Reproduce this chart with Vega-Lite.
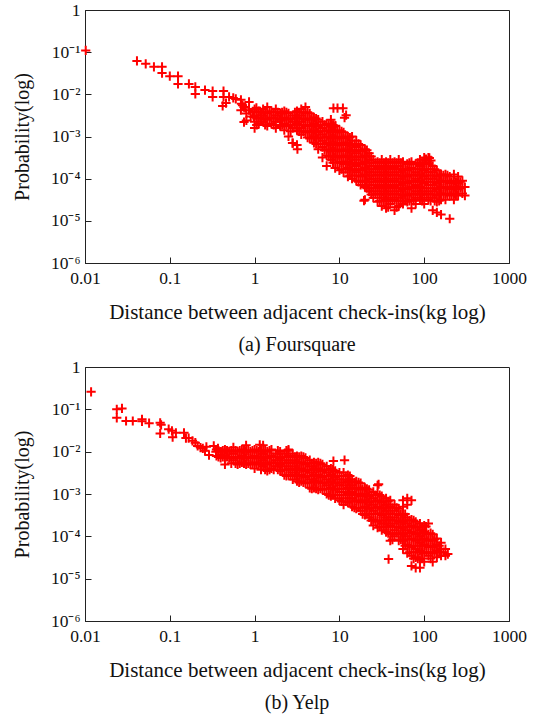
{
"$schema":"https://vega.github.io/schema/vega-lite/v6.json",
"background":"white",
"padding":{"left":11,"top":0,"right":5,"bottom":2},
"spacing":2,
"datasets":{
"fs":[
{"x":0.0102,"p":0.11},{"x":0.041,"p":0.062},{"x":0.052,"p":0.053},{"x":0.065,"p":0.045},{"x":0.081,"p":0.045},{"x":0.081,"p":0.032},{"x":0.10,"p":0.027},{"x":0.125,"p":0.027},{"x":0.125,"p":0.0176},{"x":0.168,"p":0.0176},{"x":0.20,"p":0.015},{"x":0.20,"p":0.0102},{"x":0.26,"p":0.0126},{"x":0.32,"p":0.012},{"x":0.32,"p":0.0087},{"x":0.43,"p":0.012},{"x":0.43,"p":0.0087},{"x":0.42,"p":0.0053},{"x":0.46,"p":0.0062},{"x":0.50,"p":0.0087},{"x":0.56,"p":0.0082},{"x":0.60,"p":0.0078},{"x":0.69,"p":0.0074},{"x":0.69,"p":0.0042},{"x":0.72,"p":0.0055},{"x":0.70,"p":0.006},{"x":0.75,"p":0.0022},{"x":0.75,"p":0.005},{"x":0.78,"p":0.0048},{"x":0.80,"p":0.0035},{"x":0.80,"p":0.0024},{"x":0.86,"p":0.0066},{"x":0.86,"p":0.0042},{"x":0.90,"p":0.003},{"x":0.95,"p":0.0038},{"x":0.98,"p":0.0029},{"x":1.05,"p":0.0048},
{"x":1,"p":4.47e-3},{"x":1,"p":3.16e-3},{"x":1,"p":2.24e-3},{"x":1,"p":1.58e-3},
{"x":1.12,"p":3.98e-3},{"x":1.12,"p":2.82e-3},{"x":1.12,"p":2.0e-3},
{"x":1.26,"p":4.47e-3},{"x":1.26,"p":3.16e-3},{"x":1.26,"p":2.24e-3},
{"x":1.41,"p":5.01e-3},{"x":1.41,"p":3.55e-3},{"x":1.41,"p":2.51e-3},{"x":1.41,"p":1.78e-3},
{"x":1.58,"p":3.98e-3},{"x":1.58,"p":2.82e-3},{"x":1.58,"p":2.0e-3},
{"x":1.78,"p":4.47e-3},{"x":1.78,"p":3.16e-3},{"x":1.78,"p":2.24e-3},{"x":1.78,"p":1.58e-3},
{"x":2.0,"p":3.55e-3},{"x":2.0,"p":2.51e-3},{"x":2.0,"p":1.78e-3},
{"x":2.24,"p":3.98e-3},{"x":2.24,"p":2.82e-3},{"x":2.24,"p":2.0e-3},{"x":2.24,"p":1.41e-3},
{"x":2.51,"p":3.55e-3},{"x":2.51,"p":2.51e-3},{"x":2.51,"p":1.78e-3},{"x":2.51,"p":1.0e-3},
{"x":2.82,"p":3.16e-3},{"x":2.82,"p":2.24e-3},{"x":2.82,"p":1.58e-3},{"x":2.82,"p":7e-4},
{"x":3.16,"p":3.98e-3},{"x":3.16,"p":2.82e-3},{"x":3.16,"p":2.0e-3},{"x":3.16,"p":1.41e-3},{"x":3.16,"p":6.31e-4},{"x":3.2,"p":5e-4},
{"x":3.55,"p":4.47e-3},{"x":3.55,"p":3.16e-3},{"x":3.55,"p":2.24e-3},{"x":3.55,"p":1.58e-3},{"x":3.55,"p":1.12e-3},
{"x":3.98,"p":5.01e-3},{"x":3.98,"p":3.55e-3},{"x":3.98,"p":2.51e-3},{"x":3.98,"p":1.78e-3},{"x":3.98,"p":1.26e-3},
{"x":4.47,"p":3.55e-3},{"x":4.47,"p":2.51e-3},{"x":4.47,"p":1.78e-3},{"x":4.47,"p":1.26e-3},{"x":4.47,"p":8.91e-4},
{"x":5.01,"p":2.82e-3},{"x":5.01,"p":2.0e-3},{"x":5.01,"p":1.41e-3},{"x":5.01,"p":1.0e-3},{"x":5.01,"p":7.08e-4},
{"x":5.62,"p":2.51e-3},{"x":5.62,"p":1.78e-3},{"x":5.62,"p":1.26e-3},{"x":5.62,"p":8.91e-4},{"x":5.62,"p":5.01e-4},
{"x":6.31,"p":2.24e-3},{"x":6.31,"p":1.58e-3},{"x":6.31,"p":1.12e-3},{"x":6.31,"p":7.94e-4},{"x":6.31,"p":5.62e-4},{"x":6.31,"p":3.16e-4},
{"x":7.08,"p":2.0e-3},{"x":7.08,"p":1.41e-3},{"x":7.08,"p":1.0e-3},{"x":7.08,"p":7.08e-4},{"x":7.08,"p":5.01e-4},{"x":7.08,"p":3.55e-4},{"x":7.08,"p":2.0e-4},
{"x":7.94,"p":2.51e-3},{"x":7.94,"p":1.78e-3},{"x":7.94,"p":1.26e-3},{"x":7.94,"p":8.91e-4},{"x":7.94,"p":6.31e-4},{"x":7.94,"p":4.47e-4},{"x":7.94,"p":2.82e-4},
{"x":8.91,"p":1.78e-3},{"x":8.91,"p":1.26e-3},{"x":8.91,"p":8.91e-4},{"x":8.91,"p":6.31e-4},{"x":8.91,"p":4.47e-4},{"x":8.91,"p":3.16e-4},{"x":8.91,"p":1.78e-4},
{"x":10,"p":1.41e-3},{"x":10,"p":1.0e-3},{"x":10,"p":7.08e-4},{"x":10,"p":5.01e-4},{"x":10,"p":3.55e-4},{"x":10,"p":2.51e-4},{"x":10,"p":1.58e-4},
{"x":11.2,"p":1.26e-3},{"x":11.2,"p":8.91e-4},{"x":11.2,"p":6.31e-4},{"x":11.2,"p":4.47e-4},{"x":11.2,"p":3.16e-4},{"x":11.2,"p":2.24e-4},{"x":11.2,"p":1.41e-4},
{"x":12.6,"p":1.0e-3},{"x":12.6,"p":7.08e-4},{"x":12.6,"p":5.01e-4},{"x":12.6,"p":3.55e-4},{"x":12.6,"p":2.51e-4},{"x":12.6,"p":1.78e-4},{"x":12.6,"p":1.12e-4},
{"x":14.1,"p":1.0e-3},{"x":14.1,"p":6.31e-4},{"x":14.1,"p":4.47e-4},{"x":14.1,"p":3.16e-4},{"x":14.1,"p":2.24e-4},{"x":14.1,"p":1.58e-4},{"x":14.1,"p":1.0e-4},
{"x":15.8,"p":7.94e-4},{"x":15.8,"p":5.62e-4},{"x":15.8,"p":3.98e-4},{"x":15.8,"p":2.82e-4},{"x":15.8,"p":2.0e-4},{"x":15.8,"p":1.41e-4},{"x":15.8,"p":8.91e-5},
{"x":17.8,"p":6.31e-4},{"x":17.8,"p":4.47e-4},{"x":17.8,"p":3.16e-4},{"x":17.8,"p":2.24e-4},{"x":17.8,"p":1.58e-4},{"x":17.8,"p":1.12e-4},{"x":17.8,"p":7.08e-5},
{"x":20,"p":5.01e-4},{"x":20,"p":3.55e-4},{"x":20,"p":2.51e-4},{"x":20,"p":1.78e-4},{"x":20,"p":1.26e-4},{"x":20,"p":8.91e-5},{"x":20,"p":6.31e-5},{"x":20,"p":3.16e-5},
{"x":22.4,"p":3.98e-4},{"x":22.4,"p":2.82e-4},{"x":22.4,"p":2.0e-4},{"x":22.4,"p":1.41e-4},{"x":22.4,"p":1.0e-4},{"x":22.4,"p":7.08e-5},{"x":22.4,"p":5.01e-5},
{"x":25.1,"p":2.82e-4},{"x":25.1,"p":2.0e-4},{"x":25.1,"p":1.41e-4},{"x":25.1,"p":1.0e-4},{"x":25.1,"p":7.08e-5},{"x":25.1,"p":5.01e-5},{"x":25.1,"p":3.55e-5},
{"x":28.2,"p":2.51e-4},{"x":28.2,"p":1.78e-4},{"x":28.2,"p":1.26e-4},{"x":28.2,"p":8.91e-5},{"x":28.2,"p":6.31e-5},{"x":28.2,"p":4.47e-5},{"x":28.2,"p":2.82e-5},
{"x":31.6,"p":2.82e-4},{"x":31.6,"p":2.0e-4},{"x":31.6,"p":1.41e-4},{"x":31.6,"p":1.0e-4},{"x":31.6,"p":7.08e-5},{"x":31.6,"p":5.01e-5},{"x":31.6,"p":3.55e-5},{"x":31.6,"p":2.24e-5},
{"x":35.5,"p":2.51e-4},{"x":35.5,"p":1.78e-4},{"x":35.5,"p":1.26e-4},{"x":35.5,"p":8.91e-5},{"x":35.5,"p":6.31e-5},{"x":35.5,"p":4.47e-5},{"x":35.5,"p":3.16e-5},{"x":35.5,"p":2.0e-5},
{"x":39.8,"p":2.82e-4},{"x":39.8,"p":2.0e-4},{"x":39.8,"p":1.41e-4},{"x":39.8,"p":1.0e-4},{"x":39.8,"p":7.08e-5},{"x":39.8,"p":5.01e-5},{"x":39.8,"p":3.55e-5},{"x":39.8,"p":2.51e-5},
{"x":44.7,"p":2.51e-4},{"x":44.7,"p":1.78e-4},{"x":44.7,"p":1.26e-4},{"x":44.7,"p":8.91e-5},{"x":44.7,"p":6.31e-5},{"x":44.7,"p":4.47e-5},{"x":44.7,"p":3.16e-5},{"x":44.7,"p":1.78e-5},
{"x":50.1,"p":2.82e-4},{"x":50.1,"p":2.0e-4},{"x":50.1,"p":1.41e-4},{"x":50.1,"p":1.0e-4},{"x":50.1,"p":7.08e-5},{"x":50.1,"p":5.01e-5},{"x":50.1,"p":3.55e-5},{"x":50.1,"p":2.24e-5},
{"x":56.2,"p":2.51e-4},{"x":56.2,"p":1.58e-4},{"x":56.2,"p":1.12e-4},{"x":56.2,"p":7.94e-5},{"x":56.2,"p":5.62e-5},{"x":56.2,"p":3.98e-5},{"x":56.2,"p":2.51e-5},
{"x":63.1,"p":2.24e-4},{"x":63.1,"p":1.58e-4},{"x":63.1,"p":1.12e-4},{"x":63.1,"p":7.94e-5},{"x":63.1,"p":5.62e-5},{"x":63.1,"p":3.98e-5},{"x":63.1,"p":2.82e-5},
{"x":70.8,"p":2.51e-4},{"x":70.8,"p":1.78e-4},{"x":70.8,"p":1.26e-4},{"x":70.8,"p":8.91e-5},{"x":70.8,"p":6.31e-5},{"x":70.8,"p":4.47e-5},{"x":70.8,"p":3.16e-5},{"x":70.8,"p":2.0e-5},
{"x":79.4,"p":2.24e-4},{"x":79.4,"p":1.41e-4},{"x":79.4,"p":1.0e-4},{"x":79.4,"p":7.08e-5},{"x":79.4,"p":5.01e-5},{"x":79.4,"p":3.55e-5},{"x":79.4,"p":2.51e-5},
{"x":89.1,"p":2.82e-4},{"x":89.1,"p":2.0e-4},{"x":89.1,"p":1.26e-4},{"x":89.1,"p":8.91e-5},{"x":89.1,"p":6.31e-5},{"x":89.1,"p":4.47e-5},{"x":89.1,"p":3.16e-5},
{"x":100,"p":3.16e-4},{"x":100,"p":2.24e-4},{"x":100,"p":1.58e-4},{"x":100,"p":1.12e-4},{"x":100,"p":7.94e-5},{"x":100,"p":5.01e-5},{"x":100,"p":3.55e-5},{"x":100,"p":2.51e-5},
{"x":112,"p":3.16e-4},{"x":112,"p":2.24e-4},{"x":112,"p":1.41e-4},{"x":112,"p":1.0e-4},{"x":112,"p":7.08e-5},{"x":112,"p":4.47e-5},{"x":112,"p":3.16e-5},
{"x":126,"p":2.0e-4},{"x":126,"p":1.41e-4},{"x":126,"p":1.0e-4},{"x":126,"p":7.08e-5},{"x":126,"p":5.01e-5},{"x":126,"p":3.55e-5},{"x":126,"p":1.78e-5},
{"x":141,"p":1.58e-4},{"x":141,"p":1.12e-4},{"x":141,"p":7.94e-5},{"x":141,"p":5.62e-5},{"x":141,"p":3.98e-5},{"x":141,"p":2.82e-5},{"x":141,"p":1.58e-5},
{"x":158,"p":1.26e-4},{"x":158,"p":8.91e-5},{"x":158,"p":6.31e-5},{"x":158,"p":4.47e-5},{"x":158,"p":3.16e-5},{"x":158,"p":1.41e-5},
{"x":178,"p":1.26e-4},{"x":178,"p":8.91e-5},{"x":178,"p":6.31e-5},{"x":178,"p":4.47e-5},{"x":178,"p":3.16e-5},
{"x":200,"p":1.12e-4},{"x":200,"p":7.94e-5},{"x":200,"p":5.62e-5},{"x":200,"p":3.98e-5},{"x":200,"p":1.12e-5},
{"x":224,"p":1.26e-4},{"x":224,"p":8.91e-5},{"x":224,"p":6.31e-5},{"x":224,"p":4.47e-5},{"x":224,"p":3.16e-5},
{"x":251,"p":1.12e-4},{"x":251,"p":7.94e-5},{"x":251,"p":5.62e-5},{"x":251,"p":3.98e-5},
{"x":282,"p":8.91e-5},{"x":282,"p":6.31e-5},{"x":282,"p":4.47e-5},
{"x":302,"p":6.31e-5},{"x":302,"p":3.98e-5},
{"x":8.5,"p":4.7e-3},{"x":9.5,"p":4.7e-3},{"x":11,"p":4.7e-3},{"x":12,"p":3.2e-3},{"x":11.5,"p":2.8e-3},{"x":8.5,"p":1.7e-3},{"x":8,"p":1.9e-3},{"x":9,"p":1.8e-3},{"x":115,"p":3.1e-4},{"x":120,"p":2.7e-4},{"x":105,"p":2.9e-4},{"x":2.8,"p":7e-4},{"x":19.5,"p":3e-5},
{"x":1.06,"p":3.76e-3},{"x":1.06,"p":2.66e-3},{"x":1.06,"p":1.88e-3},
{"x":1.19,"p":3.76e-3},{"x":1.19,"p":2.66e-3},
{"x":1.33,"p":3.76e-3},{"x":1.33,"p":2.66e-3},{"x":1.33,"p":1.88e-3},
{"x":1.50,"p":3.76e-3},{"x":1.50,"p":2.66e-3},
{"x":1.68,"p":3.76e-3},{"x":1.68,"p":2.66e-3},{"x":1.68,"p":1.88e-3},
{"x":1.88,"p":3.76e-3},{"x":1.88,"p":2.66e-3},
{"x":2.11,"p":3.76e-3},{"x":2.11,"p":2.66e-3},{"x":2.11,"p":1.88e-3},
{"x":2.37,"p":3.76e-3},{"x":2.37,"p":2.66e-3},{"x":2.37,"p":1.88e-3},
{"x":2.66,"p":2.66e-3},{"x":2.66,"p":1.88e-3},{"x":2.66,"p":1.33e-3},
{"x":2.99,"p":3.76e-3},{"x":2.99,"p":2.66e-3},{"x":2.99,"p":1.88e-3},
{"x":3.35,"p":3.76e-3},{"x":3.35,"p":2.66e-3},{"x":3.35,"p":1.88e-3},{"x":3.35,"p":1.33e-3},
{"x":3.76,"p":3.76e-3},{"x":3.76,"p":2.66e-3},{"x":3.76,"p":1.88e-3},{"x":3.76,"p":1.33e-3},
{"x":4.22,"p":3.76e-3},{"x":4.22,"p":2.66e-3},{"x":4.22,"p":1.88e-3},{"x":4.22,"p":1.33e-3},{"x":4.22,"p":9.44e-4},
{"x":4.73,"p":2.66e-3},{"x":4.73,"p":1.88e-3},{"x":4.73,"p":1.33e-3},{"x":4.73,"p":9.44e-4},
{"x":5.31,"p":2.66e-3},{"x":5.31,"p":1.88e-3},{"x":5.31,"p":1.33e-3},{"x":5.31,"p":9.44e-4},{"x":5.31,"p":6.68e-4},
{"x":5.96,"p":1.88e-3},{"x":5.96,"p":1.33e-3},{"x":5.96,"p":9.44e-4},{"x":5.96,"p":6.68e-4},
{"x":6.68,"p":1.88e-3},{"x":6.68,"p":1.33e-3},{"x":6.68,"p":9.44e-4},{"x":6.68,"p":6.68e-4},{"x":6.68,"p":4.73e-4},
{"x":7.50,"p":1.88e-3},{"x":7.50,"p":1.33e-3},{"x":7.50,"p":9.44e-4},{"x":7.50,"p":6.68e-4},{"x":7.50,"p":4.73e-4},{"x":7.50,"p":3.35e-4},
{"x":8.41,"p":1.88e-3},{"x":8.41,"p":1.33e-3},{"x":8.41,"p":9.44e-4},{"x":8.41,"p":6.68e-4},{"x":8.41,"p":4.73e-4},{"x":8.41,"p":3.35e-4},{"x":8.41,"p":2.37e-4},
{"x":9.44,"p":1.33e-3},{"x":9.44,"p":9.44e-4},{"x":9.44,"p":6.68e-4},{"x":9.44,"p":4.73e-4},{"x":9.44,"p":3.35e-4},{"x":9.44,"p":2.37e-4},
{"x":10.6,"p":1.33e-3},{"x":10.6,"p":9.44e-4},{"x":10.6,"p":6.68e-4},{"x":10.6,"p":4.73e-4},{"x":10.6,"p":3.35e-4},{"x":10.6,"p":2.37e-4},{"x":10.6,"p":1.68e-4},
{"x":11.9,"p":9.44e-4},{"x":11.9,"p":6.68e-4},{"x":11.9,"p":4.73e-4},{"x":11.9,"p":3.35e-4},{"x":11.9,"p":2.37e-4},{"x":11.9,"p":1.68e-4},
{"x":13.3,"p":9.44e-4},{"x":13.3,"p":6.68e-4},{"x":13.3,"p":4.73e-4},{"x":13.3,"p":3.35e-4},{"x":13.3,"p":2.37e-4},{"x":13.3,"p":1.68e-4},{"x":13.3,"p":1.19e-4},
{"x":15.0,"p":6.68e-4},{"x":15.0,"p":4.73e-4},{"x":15.0,"p":3.35e-4},{"x":15.0,"p":2.37e-4},{"x":15.0,"p":1.68e-4},{"x":15.0,"p":1.19e-4},
{"x":16.8,"p":6.68e-4},{"x":16.8,"p":4.73e-4},{"x":16.8,"p":3.35e-4},{"x":16.8,"p":2.37e-4},{"x":16.8,"p":1.68e-4},{"x":16.8,"p":1.19e-4},{"x":16.8,"p":8.41e-5},
{"x":18.8,"p":4.73e-4},{"x":18.8,"p":3.35e-4},{"x":18.8,"p":2.37e-4},{"x":18.8,"p":1.68e-4},{"x":18.8,"p":1.19e-4},{"x":18.8,"p":8.41e-5},
{"x":21.1,"p":4.73e-4},{"x":21.1,"p":3.35e-4},{"x":21.1,"p":2.37e-4},{"x":21.1,"p":1.68e-4},{"x":21.1,"p":1.19e-4},{"x":21.1,"p":8.41e-5},{"x":21.1,"p":5.96e-5},
{"x":23.7,"p":3.35e-4},{"x":23.7,"p":2.37e-4},{"x":23.7,"p":1.68e-4},{"x":23.7,"p":1.19e-4},{"x":23.7,"p":8.41e-5},{"x":23.7,"p":5.96e-5},{"x":23.7,"p":4.22e-5},
{"x":26.6,"p":2.37e-4},{"x":26.6,"p":1.68e-4},{"x":26.6,"p":1.19e-4},{"x":26.6,"p":8.41e-5},{"x":26.6,"p":5.96e-5},{"x":26.6,"p":4.22e-5},
{"x":29.9,"p":2.37e-4},{"x":29.9,"p":1.68e-4},{"x":29.9,"p":1.19e-4},{"x":29.9,"p":8.41e-5},{"x":29.9,"p":5.96e-5},{"x":29.9,"p":4.22e-5},{"x":29.9,"p":2.99e-5},
{"x":33.5,"p":2.37e-4},{"x":33.5,"p":1.68e-4},{"x":33.5,"p":1.19e-4},{"x":33.5,"p":8.41e-5},{"x":33.5,"p":5.96e-5},{"x":33.5,"p":4.22e-5},{"x":33.5,"p":2.99e-5},
{"x":37.6,"p":2.37e-4},{"x":37.6,"p":1.68e-4},{"x":37.6,"p":1.19e-4},{"x":37.6,"p":8.41e-5},{"x":37.6,"p":5.96e-5},{"x":37.6,"p":4.22e-5},{"x":37.6,"p":2.99e-5},{"x":37.6,"p":2.11e-5},
{"x":42.2,"p":2.37e-4},{"x":42.2,"p":1.68e-4},{"x":42.2,"p":1.19e-4},{"x":42.2,"p":8.41e-5},{"x":42.2,"p":5.96e-5},{"x":42.2,"p":4.22e-5},{"x":42.2,"p":2.99e-5},
{"x":47.3,"p":2.37e-4},{"x":47.3,"p":1.68e-4},{"x":47.3,"p":1.19e-4},{"x":47.3,"p":8.41e-5},{"x":47.3,"p":5.96e-5},{"x":47.3,"p":4.22e-5},{"x":47.3,"p":2.99e-5},{"x":47.3,"p":2.11e-5},
{"x":53.1,"p":2.37e-4},{"x":53.1,"p":1.68e-4},{"x":53.1,"p":1.19e-4},{"x":53.1,"p":8.41e-5},{"x":53.1,"p":5.96e-5},{"x":53.1,"p":4.22e-5},{"x":53.1,"p":2.99e-5},
{"x":59.6,"p":1.68e-4},{"x":59.6,"p":1.19e-4},{"x":59.6,"p":8.41e-5},{"x":59.6,"p":5.96e-5},{"x":59.6,"p":4.22e-5},{"x":59.6,"p":2.99e-5},
{"x":66.8,"p":2.37e-4},{"x":66.8,"p":1.68e-4},{"x":66.8,"p":1.19e-4},{"x":66.8,"p":8.41e-5},{"x":66.8,"p":5.96e-5},{"x":66.8,"p":4.22e-5},{"x":66.8,"p":2.99e-5},
{"x":75.0,"p":1.68e-4},{"x":75.0,"p":1.19e-4},{"x":75.0,"p":8.41e-5},{"x":75.0,"p":5.96e-5},{"x":75.0,"p":4.22e-5},{"x":75.0,"p":2.99e-5},
{"x":84.1,"p":2.37e-4},{"x":84.1,"p":1.68e-4},{"x":84.1,"p":1.19e-4},{"x":84.1,"p":8.41e-5},{"x":84.1,"p":5.96e-5},{"x":84.1,"p":4.22e-5},
{"x":94.4,"p":2.37e-4},{"x":94.4,"p":1.68e-4},{"x":94.4,"p":1.19e-4},{"x":94.4,"p":8.41e-5},{"x":94.4,"p":5.96e-5},{"x":94.4,"p":4.22e-5},{"x":94.4,"p":2.99e-5},
{"x":106,"p":2.37e-4},{"x":106,"p":1.68e-4},{"x":106,"p":1.19e-4},{"x":106,"p":8.41e-5},{"x":106,"p":5.96e-5},{"x":106,"p":4.22e-5},
{"x":119,"p":1.68e-4},{"x":119,"p":1.19e-4},{"x":119,"p":8.41e-5},{"x":119,"p":5.96e-5},{"x":119,"p":4.22e-5},{"x":119,"p":2.99e-5},
{"x":133,"p":1.68e-4},{"x":133,"p":1.19e-4},{"x":133,"p":8.41e-5},{"x":133,"p":5.96e-5},{"x":133,"p":4.22e-5},{"x":133,"p":2.99e-5},
{"x":150,"p":1.19e-4},{"x":150,"p":8.41e-5},{"x":150,"p":5.96e-5},{"x":150,"p":4.22e-5},{"x":150,"p":2.99e-5},
{"x":168,"p":1.19e-4},{"x":168,"p":8.41e-5},{"x":168,"p":5.96e-5},{"x":168,"p":4.22e-5},
{"x":188,"p":1.19e-4},{"x":188,"p":8.41e-5},{"x":188,"p":5.96e-5},{"x":188,"p":4.22e-5},
{"x":211,"p":8.41e-5},{"x":211,"p":5.96e-5},{"x":211,"p":4.22e-5},
{"x":237,"p":8.41e-5},{"x":237,"p":5.96e-5},{"x":237,"p":4.22e-5},
{"x":266,"p":8.41e-5},{"x":266,"p":5.96e-5}
],
"yelp":[
{"x":0.0118,"p":0.26},{"x":0.0237,"p":0.1},{"x":0.0273,"p":0.105},{"x":0.0237,"p":0.063},{"x":0.0305,"p":0.053},{"x":0.0366,"p":0.053},{"x":0.047,"p":0.058},{"x":0.047,"p":0.052},{"x":0.057,"p":0.047},{"x":0.077,"p":0.048},{"x":0.079,"p":0.043},{"x":0.077,"p":0.027},{"x":0.097,"p":0.034},{"x":0.106,"p":0.031},{"x":0.108,"p":0.022},{"x":0.118,"p":0.028},{"x":0.147,"p":0.028},{"x":0.155,"p":0.021},{"x":0.167,"p":0.021},{"x":0.185,"p":0.018},{"x":0.2,"p":0.0163},{"x":0.213,"p":0.0137},{"x":0.23,"p":0.0125},{"x":0.245,"p":0.012},{"x":0.26,"p":0.0105},{"x":0.29,"p":0.0083},{"x":0.27,"p":0.013},{"x":0.33,"p":0.0137},{"x":0.35,"p":0.01},{"x":0.37,"p":0.012},{"x":0.4,"p":0.0085},
{"x":0.355,"p":0.0112},{"x":0.355,"p":0.0079},
{"x":0.398,"p":0.0100},{"x":0.398,"p":0.0071},
{"x":0.447,"p":0.0112},{"x":0.447,"p":0.0079},{"x":0.447,"p":0.0050},
{"x":0.501,"p":0.0100},{"x":0.501,"p":0.0071},
{"x":0.562,"p":0.0126},{"x":0.562,"p":0.0089},{"x":0.562,"p":0.0063},
{"x":0.631,"p":0.0100},{"x":0.631,"p":0.0071},{"x":0.631,"p":0.0050},
{"x":0.708,"p":0.0112},{"x":0.708,"p":0.0079},{"x":0.708,"p":0.0056},
{"x":0.794,"p":0.0141},{"x":0.794,"p":0.0100},{"x":0.794,"p":0.0071},{"x":0.794,"p":0.0050},
{"x":0.891,"p":0.0100},{"x":0.891,"p":0.0071},{"x":0.891,"p":0.0050},
{"x":1.0,"p":0.0112},{"x":1.0,"p":0.0079},{"x":1.0,"p":0.0056},{"x":1.0,"p":0.0040},
{"x":1.12,"p":0.0100},{"x":1.12,"p":0.0071},{"x":1.12,"p":0.0050},
{"x":1.26,"p":0.0141},{"x":1.26,"p":0.0089},{"x":1.26,"p":0.0063},{"x":1.26,"p":0.0045},
{"x":1.41,"p":0.0100},{"x":1.41,"p":0.0071},{"x":1.41,"p":0.0050},{"x":1.41,"p":0.0035},
{"x":1.58,"p":0.0112},{"x":1.58,"p":0.0079},{"x":1.58,"p":0.0056},{"x":1.58,"p":0.0040},
{"x":1.78,"p":0.0089},{"x":1.78,"p":0.0063},{"x":1.78,"p":0.0045},
{"x":2.0,"p":0.0100},{"x":2.0,"p":0.0071},{"x":2.0,"p":0.0050},{"x":2.0,"p":0.0035},
{"x":2.24,"p":0.0089},{"x":2.24,"p":0.0063},{"x":2.24,"p":0.0045},{"x":2.24,"p":0.0028},
{"x":2.51,"p":0.0112},{"x":2.51,"p":0.0079},{"x":2.51,"p":0.0056},{"x":2.51,"p":0.0040},{"x":2.51,"p":0.0028},
{"x":2.82,"p":0.0089},{"x":2.82,"p":0.0063},{"x":2.82,"p":0.0045},{"x":2.82,"p":0.0032},{"x":2.82,"p":0.0022},
{"x":3.16,"p":0.0079},{"x":3.16,"p":0.0056},{"x":3.16,"p":0.0040},{"x":3.16,"p":0.0028},{"x":3.16,"p":0.0020},
{"x":3.55,"p":0.0079},{"x":3.55,"p":0.0056},{"x":3.55,"p":0.0040},{"x":3.55,"p":0.0028},{"x":3.55,"p":0.0020},
{"x":3.98,"p":0.0071},{"x":3.98,"p":0.0050},{"x":3.98,"p":0.0035},{"x":3.98,"p":0.0025},{"x":3.98,"p":0.0018},
{"x":4.47,"p":0.0063},{"x":4.47,"p":0.0045},{"x":4.47,"p":0.0032},{"x":4.47,"p":0.0022},{"x":4.47,"p":0.0014},
{"x":5.01,"p":0.0056},{"x":5.01,"p":0.0040},{"x":5.01,"p":0.0028},{"x":5.01,"p":0.0020},{"x":5.01,"p":0.0014},
{"x":5.62,"p":0.0056},{"x":5.62,"p":0.0040},{"x":5.62,"p":0.0028},{"x":5.62,"p":0.0020},{"x":5.62,"p":0.00126},
{"x":6.31,"p":0.0050},{"x":6.31,"p":0.0035},{"x":6.31,"p":0.0025},{"x":6.31,"p":0.0018},{"x":6.31,"p":0.00126},
{"x":7.08,"p":0.0045},{"x":7.08,"p":0.0032},{"x":7.08,"p":0.0022},{"x":7.08,"p":0.0016},{"x":7.08,"p":0.0010},
{"x":7.94,"p":0.0040},{"x":7.94,"p":0.0028},{"x":7.94,"p":0.0020},{"x":7.94,"p":0.0014},{"x":7.94,"p":0.00089},
{"x":8.91,"p":0.0035},{"x":8.91,"p":0.0025},{"x":8.91,"p":0.0018},{"x":8.91,"p":0.00126},{"x":8.91,"p":0.00079},
{"x":10,"p":0.0032},{"x":10,"p":0.0022},{"x":10,"p":0.0016},{"x":10,"p":0.00112},{"x":10,"p":0.00071},
{"x":11.2,"p":0.0032},{"x":11.2,"p":0.0022},{"x":11.2,"p":0.0016},{"x":11.2,"p":0.00112},{"x":11.2,"p":0.00079},{"x":11.2,"p":0.00056},
{"x":12.6,"p":0.0028},{"x":12.6,"p":0.0020},{"x":12.6,"p":0.0014},{"x":12.6,"p":0.0010},{"x":12.6,"p":0.00063},
{"x":14.1,"p":0.0022},{"x":14.1,"p":0.0016},{"x":14.1,"p":0.00112},{"x":14.1,"p":0.00079},{"x":14.1,"p":0.00050},
{"x":15.8,"p":0.0020},{"x":15.8,"p":0.0014},{"x":15.8,"p":0.0010},{"x":15.8,"p":0.00071},{"x":15.8,"p":0.00045},
{"x":17.8,"p":0.0018},{"x":17.8,"p":0.00126},{"x":17.8,"p":0.00089},{"x":17.8,"p":0.00063},{"x":17.8,"p":0.00040},
{"x":20,"p":0.0014},{"x":20,"p":0.0010},{"x":20,"p":0.00071},{"x":20,"p":0.00050},{"x":20,"p":0.00032},
{"x":22.4,"p":0.00126},{"x":22.4,"p":0.00089},{"x":22.4,"p":0.00063},{"x":22.4,"p":0.00045},{"x":22.4,"p":0.00028},
{"x":25.1,"p":0.00112},{"x":25.1,"p":0.00079},{"x":25.1,"p":0.00056},{"x":25.1,"p":0.00040},{"x":25.1,"p":0.00025},{"x":25.1,"p":0.00018},
{"x":28.2,"p":0.0016},{"x":28.2,"p":0.0010},{"x":28.2,"p":0.00071},{"x":28.2,"p":0.00050},{"x":28.2,"p":0.00035},{"x":28.2,"p":0.00022},{"x":28.2,"p":0.00016},
{"x":31.6,"p":0.00089},{"x":31.6,"p":0.00063},{"x":31.6,"p":0.00045},{"x":31.6,"p":0.00032},{"x":31.6,"p":0.00020},{"x":31.6,"p":0.00014},
{"x":35.5,"p":0.00079},{"x":35.5,"p":0.00056},{"x":35.5,"p":0.00040},{"x":35.5,"p":0.00028},{"x":35.5,"p":0.00020},{"x":35.5,"p":0.000126},
{"x":39.8,"p":0.00071},{"x":39.8,"p":0.00050},{"x":39.8,"p":0.00035},{"x":39.8,"p":0.00025},{"x":39.8,"p":0.00018},{"x":39.8,"p":0.000112},{"x":39.8,"p":0.000079},
{"x":44.7,"p":0.00056},{"x":44.7,"p":0.00040},{"x":44.7,"p":0.00028},{"x":44.7,"p":0.00020},{"x":44.7,"p":0.00014},{"x":44.7,"p":0.00010},
{"x":50.1,"p":0.00045},{"x":50.1,"p":0.00032},{"x":50.1,"p":0.00022},{"x":50.1,"p":0.00016},{"x":50.1,"p":0.000112},{"x":50.1,"p":0.000079},
{"x":56.2,"p":0.00071},{"x":56.2,"p":0.00050},{"x":56.2,"p":0.00032},{"x":56.2,"p":0.00022},{"x":56.2,"p":0.00016},{"x":56.2,"p":0.000112},{"x":56.2,"p":0.000079},{"x":56.2,"p":0.00005},
{"x":63.1,"p":0.00079},{"x":63.1,"p":0.00056},{"x":63.1,"p":0.00028},{"x":63.1,"p":0.00020},{"x":63.1,"p":0.00014},{"x":63.1,"p":0.00010},{"x":63.1,"p":0.000063},{"x":63.1,"p":0.00004},
{"x":70.8,"p":0.00071},{"x":70.8,"p":0.00025},{"x":70.8,"p":0.00018},{"x":70.8,"p":0.000126},{"x":70.8,"p":0.000089},{"x":70.8,"p":0.000056},{"x":70.8,"p":0.000035},{"x":70.8,"p":0.00002},
{"x":79.4,"p":0.00022},{"x":79.4,"p":0.00016},{"x":79.4,"p":0.000112},{"x":79.4,"p":0.000079},{"x":79.4,"p":0.00005},{"x":79.4,"p":0.000032},{"x":79.4,"p":0.000018},
{"x":89.1,"p":0.0002},{"x":89.1,"p":0.00014},{"x":89.1,"p":0.0001},{"x":89.1,"p":0.000071},{"x":89.1,"p":0.000045},{"x":89.1,"p":0.000028},{"x":89.1,"p":0.000018},
{"x":100,"p":0.00018},{"x":100,"p":0.000126},{"x":100,"p":0.000089},{"x":100,"p":0.000063},{"x":100,"p":0.00004},{"x":100,"p":0.000025},
{"x":112,"p":0.0002},{"x":112,"p":0.000112},{"x":112,"p":0.000079},{"x":112,"p":0.000056},{"x":112,"p":0.000035},
{"x":126,"p":0.000112},{"x":126,"p":0.000079},{"x":126,"p":0.000056},{"x":126,"p":0.00004},{"x":126,"p":0.000025},
{"x":141,"p":0.000089},{"x":141,"p":0.000063},{"x":141,"p":0.000045},{"x":141,"p":0.000032},
{"x":158,"p":0.000071},{"x":158,"p":0.00005},{"x":158,"p":0.000035},
{"x":178,"p":0.00005},{"x":178,"p":0.000035},
{"x":190,"p":0.000038},
{"x":38,"p":0.000029},{"x":29,"p":0.0017},{"x":11.5,"p":0.0063},{"x":8.5,"p":0.006},{"x":1.15,"p":0.0145},{"x":2.5,"p":0.0105},{"x":105,"p":0.00017},
{"x":0.375,"p":1.06e-2},{"x":0.375,"p":7.5e-3},
{"x":0.422,"p":1.06e-2},{"x":0.422,"p":7.5e-3},
{"x":0.473,"p":1.06e-2},{"x":0.473,"p":7.5e-3},
{"x":0.531,"p":1.06e-2},{"x":0.531,"p":7.5e-3},{"x":0.531,"p":5.31e-3},
{"x":0.596,"p":1.06e-2},{"x":0.596,"p":7.5e-3},{"x":0.596,"p":5.31e-3},
{"x":0.668,"p":1.06e-2},{"x":0.668,"p":7.5e-3},{"x":0.668,"p":5.31e-3},
{"x":0.750,"p":1.06e-2},{"x":0.750,"p":7.5e-3},{"x":0.750,"p":5.31e-3},
{"x":0.841,"p":1.06e-2},{"x":0.841,"p":7.5e-3},{"x":0.841,"p":5.31e-3},
{"x":0.944,"p":1.06e-2},{"x":0.944,"p":7.5e-3},{"x":0.944,"p":5.31e-3},
{"x":1.06,"p":1.06e-2},{"x":1.06,"p":7.5e-3},{"x":1.06,"p":5.31e-3},
{"x":1.19,"p":1.06e-2},{"x":1.19,"p":7.5e-3},{"x":1.19,"p":5.31e-3},{"x":1.19,"p":3.76e-3},
{"x":1.33,"p":1.06e-2},{"x":1.33,"p":7.5e-3},{"x":1.33,"p":5.31e-3},{"x":1.33,"p":3.76e-3},
{"x":1.50,"p":1.06e-2},{"x":1.50,"p":7.5e-3},{"x":1.50,"p":5.31e-3},{"x":1.50,"p":3.76e-3},
{"x":1.68,"p":7.5e-3},{"x":1.68,"p":5.31e-3},{"x":1.68,"p":3.76e-3},
{"x":1.88,"p":1.06e-2},{"x":1.88,"p":7.5e-3},{"x":1.88,"p":5.31e-3},{"x":1.88,"p":3.76e-3},
{"x":2.11,"p":7.5e-3},{"x":2.11,"p":5.31e-3},{"x":2.11,"p":3.76e-3},
{"x":2.37,"p":1.06e-2},{"x":2.37,"p":7.5e-3},{"x":2.37,"p":5.31e-3},{"x":2.37,"p":3.76e-3},{"x":2.37,"p":2.66e-3},
{"x":2.66,"p":7.5e-3},{"x":2.66,"p":5.31e-3},{"x":2.66,"p":3.76e-3},{"x":2.66,"p":2.66e-3},
{"x":2.99,"p":7.5e-3},{"x":2.99,"p":5.31e-3},{"x":2.99,"p":3.76e-3},{"x":2.99,"p":2.66e-3},
{"x":3.35,"p":7.5e-3},{"x":3.35,"p":5.31e-3},{"x":3.35,"p":3.76e-3},{"x":3.35,"p":2.66e-3},{"x":3.35,"p":1.88e-3},
{"x":3.76,"p":7.5e-3},{"x":3.76,"p":5.31e-3},{"x":3.76,"p":3.76e-3},{"x":3.76,"p":2.66e-3},{"x":3.76,"p":1.88e-3},
{"x":4.22,"p":5.31e-3},{"x":4.22,"p":3.76e-3},{"x":4.22,"p":2.66e-3},{"x":4.22,"p":1.88e-3},
{"x":4.73,"p":5.31e-3},{"x":4.73,"p":3.76e-3},{"x":4.73,"p":2.66e-3},{"x":4.73,"p":1.88e-3},{"x":4.73,"p":1.33e-3},
{"x":5.31,"p":5.31e-3},{"x":5.31,"p":3.76e-3},{"x":5.31,"p":2.66e-3},{"x":5.31,"p":1.88e-3},{"x":5.31,"p":1.33e-3},
{"x":5.96,"p":5.31e-3},{"x":5.96,"p":3.76e-3},{"x":5.96,"p":2.66e-3},{"x":5.96,"p":1.88e-3},{"x":5.96,"p":1.33e-3},
{"x":6.68,"p":3.76e-3},{"x":6.68,"p":2.66e-3},{"x":6.68,"p":1.88e-3},{"x":6.68,"p":1.33e-3},
{"x":7.50,"p":3.76e-3},{"x":7.50,"p":2.66e-3},{"x":7.50,"p":1.88e-3},{"x":7.50,"p":1.33e-3},{"x":7.50,"p":9.44e-4},
{"x":8.41,"p":3.76e-3},{"x":8.41,"p":2.66e-3},{"x":8.41,"p":1.88e-3},{"x":8.41,"p":1.33e-3},{"x":8.41,"p":9.44e-4},
{"x":9.44,"p":2.66e-3},{"x":9.44,"p":1.88e-3},{"x":9.44,"p":1.33e-3},{"x":9.44,"p":9.44e-4},
{"x":10.6,"p":2.66e-3},{"x":10.6,"p":1.88e-3},{"x":10.6,"p":1.33e-3},{"x":10.6,"p":9.44e-4},{"x":10.6,"p":6.68e-4},
{"x":11.9,"p":2.66e-3},{"x":11.9,"p":1.88e-3},{"x":11.9,"p":1.33e-3},{"x":11.9,"p":9.44e-4},{"x":11.9,"p":6.68e-4},
{"x":13.3,"p":2.66e-3},{"x":13.3,"p":1.88e-3},{"x":13.3,"p":1.33e-3},{"x":13.3,"p":9.44e-4},{"x":13.3,"p":6.68e-4},
{"x":15.0,"p":1.88e-3},{"x":15.0,"p":1.33e-3},{"x":15.0,"p":9.44e-4},{"x":15.0,"p":6.68e-4},{"x":15.0,"p":4.73e-4},
{"x":16.8,"p":1.88e-3},{"x":16.8,"p":1.33e-3},{"x":16.8,"p":9.44e-4},{"x":16.8,"p":6.68e-4},{"x":16.8,"p":4.73e-4},
{"x":18.8,"p":1.33e-3},{"x":18.8,"p":9.44e-4},{"x":18.8,"p":6.68e-4},{"x":18.8,"p":4.73e-4},{"x":18.8,"p":3.35e-4},
{"x":21.1,"p":1.33e-3},{"x":21.1,"p":9.44e-4},{"x":21.1,"p":6.68e-4},{"x":21.1,"p":4.73e-4},{"x":21.1,"p":3.35e-4},
{"x":23.7,"p":9.44e-4},{"x":23.7,"p":6.68e-4},{"x":23.7,"p":4.73e-4},{"x":23.7,"p":3.35e-4},{"x":23.7,"p":2.37e-4},
{"x":26.6,"p":9.44e-4},{"x":26.6,"p":6.68e-4},{"x":26.6,"p":4.73e-4},{"x":26.6,"p":3.35e-4},{"x":26.6,"p":2.37e-4},
{"x":29.9,"p":9.44e-4},{"x":29.9,"p":6.68e-4},{"x":29.9,"p":4.73e-4},{"x":29.9,"p":3.35e-4},{"x":29.9,"p":2.37e-4},{"x":29.9,"p":1.68e-4},
{"x":33.5,"p":6.68e-4},{"x":33.5,"p":4.73e-4},{"x":33.5,"p":3.35e-4},{"x":33.5,"p":2.37e-4},{"x":33.5,"p":1.68e-4},
{"x":37.6,"p":6.68e-4},{"x":37.6,"p":4.73e-4},{"x":37.6,"p":3.35e-4},{"x":37.6,"p":2.37e-4},{"x":37.6,"p":1.68e-4},{"x":37.6,"p":1.19e-4},
{"x":42.2,"p":4.73e-4},{"x":42.2,"p":3.35e-4},{"x":42.2,"p":2.37e-4},{"x":42.2,"p":1.68e-4},{"x":42.2,"p":1.19e-4},{"x":42.2,"p":8.41e-5},
{"x":47.3,"p":4.73e-4},{"x":47.3,"p":3.35e-4},{"x":47.3,"p":2.37e-4},{"x":47.3,"p":1.68e-4},{"x":47.3,"p":1.19e-4},
{"x":53.1,"p":3.35e-4},{"x":53.1,"p":2.37e-4},{"x":53.1,"p":1.68e-4},{"x":53.1,"p":1.19e-4},{"x":53.1,"p":8.41e-5},
{"x":59.6,"p":3.35e-4},{"x":59.6,"p":2.37e-4},{"x":59.6,"p":1.68e-4},{"x":59.6,"p":1.19e-4},{"x":59.6,"p":8.41e-5},{"x":59.6,"p":5.96e-5},
{"x":66.8,"p":2.37e-4},{"x":66.8,"p":1.68e-4},{"x":66.8,"p":1.19e-4},{"x":66.8,"p":8.41e-5},{"x":66.8,"p":5.96e-5},{"x":66.8,"p":4.22e-5},
{"x":75.0,"p":2.37e-4},{"x":75.0,"p":1.68e-4},{"x":75.0,"p":1.19e-4},{"x":75.0,"p":8.41e-5},{"x":75.0,"p":5.96e-5},{"x":75.0,"p":4.22e-5},{"x":75.0,"p":2.99e-5},
{"x":84.1,"p":1.68e-4},{"x":84.1,"p":1.19e-4},{"x":84.1,"p":8.41e-5},{"x":84.1,"p":5.96e-5},{"x":84.1,"p":4.22e-5},{"x":84.1,"p":2.99e-5},
{"x":94.4,"p":1.68e-4},{"x":94.4,"p":1.19e-4},{"x":94.4,"p":8.41e-5},{"x":94.4,"p":5.96e-5},{"x":94.4,"p":4.22e-5},{"x":94.4,"p":2.99e-5},
{"x":106,"p":1.19e-4},{"x":106,"p":8.41e-5},{"x":106,"p":5.96e-5},{"x":106,"p":4.22e-5},
{"x":119,"p":1.19e-4},{"x":119,"p":8.41e-5},{"x":119,"p":5.96e-5},{"x":119,"p":4.22e-5},{"x":119,"p":2.99e-5},
{"x":133,"p":8.41e-5},{"x":133,"p":5.96e-5},{"x":133,"p":4.22e-5},
{"x":150,"p":5.96e-5},{"x":150,"p":4.22e-5},
{"x":168,"p":4.22e-5}
]
},
"vconcat":[
{
"data":{"name":"fs"},
"width":424,"height":253,
"title":{"text":"(a) Foursquare"},
"mark":{"type":"point","shape":"M-1,0H1M0,-1V1","size":85,"filled":false,"stroke":"#ff0000","strokeWidth":2,"opacity":1},
"encoding":{
"x":{"field":"x","type":"quantitative","scale":{"type":"log","domain":[0.01,1000],"nice":false},"axis":{"title":"Distance between adjacent check-ins(kg log)","values":[0.01,0.1,1,10,100,1000],"labelExpr":"'' + datum.value"}},
"y":{"field":"p","type":"quantitative","scale":{"type":"log","domain":[0.000001,1],"nice":false},"axis":{"title":"Probability(log)","values":[1,0.1,0.01,0.001,0.0001,0.00001,0.000001],"labelExpr":"datum.value >= 1 ? '1' : '10' + ['', '⁻¹','⁻²','⁻³','⁻⁴','⁻⁵','⁻⁶'][round(-log(datum.value)/LN10)]"}}
}
},
{
"data":{"name":"yelp"},
"width":424,"height":254,
"title":{"text":"(b) Yelp"},
"mark":{"type":"point","shape":"M-1,0H1M0,-1V1","size":85,"filled":false,"stroke":"#ff0000","strokeWidth":2,"opacity":1},
"encoding":{
"x":{"field":"x","type":"quantitative","scale":{"type":"log","domain":[0.01,1000],"nice":false},"axis":{"title":"Distance between adjacent check-ins(kg log)","values":[0.01,0.1,1,10,100,1000],"labelExpr":"'' + datum.value"}},
"y":{"field":"p","type":"quantitative","scale":{"type":"log","domain":[0.000001,1],"nice":false},"axis":{"title":"Probability(log)","values":[1,0.1,0.01,0.001,0.0001,0.00001,0.000001],"labelExpr":"datum.value >= 1 ? '1' : '10' + ['', '⁻¹','⁻²','⁻³','⁻⁴','⁻⁵','⁻⁶'][round(-log(datum.value)/LN10)]"}}
}
}
],
"config":{
"font":"Liberation Serif",
"view":{"stroke":"#222","strokeWidth":1},
"axis":{"labelFont":"Liberation Serif","titleFont":"Liberation Serif","labelFontSize":17.5,"titleFontSize":20,"titleFontWeight":"normal","labelColor":"#111","titleColor":"#111","domainColor":"#222","tickColor":"#222","tickSize":-6,"grid":false,"labelFlush":false,"labelOverlap":false},
"axisX":{"titlePadding":15,"labelPadding":12,"titleFontSize":21},
"axisY":{"titlePadding":18,"labelPadding":11},
"title":{"font":"Liberation Serif","fontSize":20,"fontWeight":"normal","color":"#111","orient":"bottom","anchor":"middle","frame":"group","offset":12}
}
}
